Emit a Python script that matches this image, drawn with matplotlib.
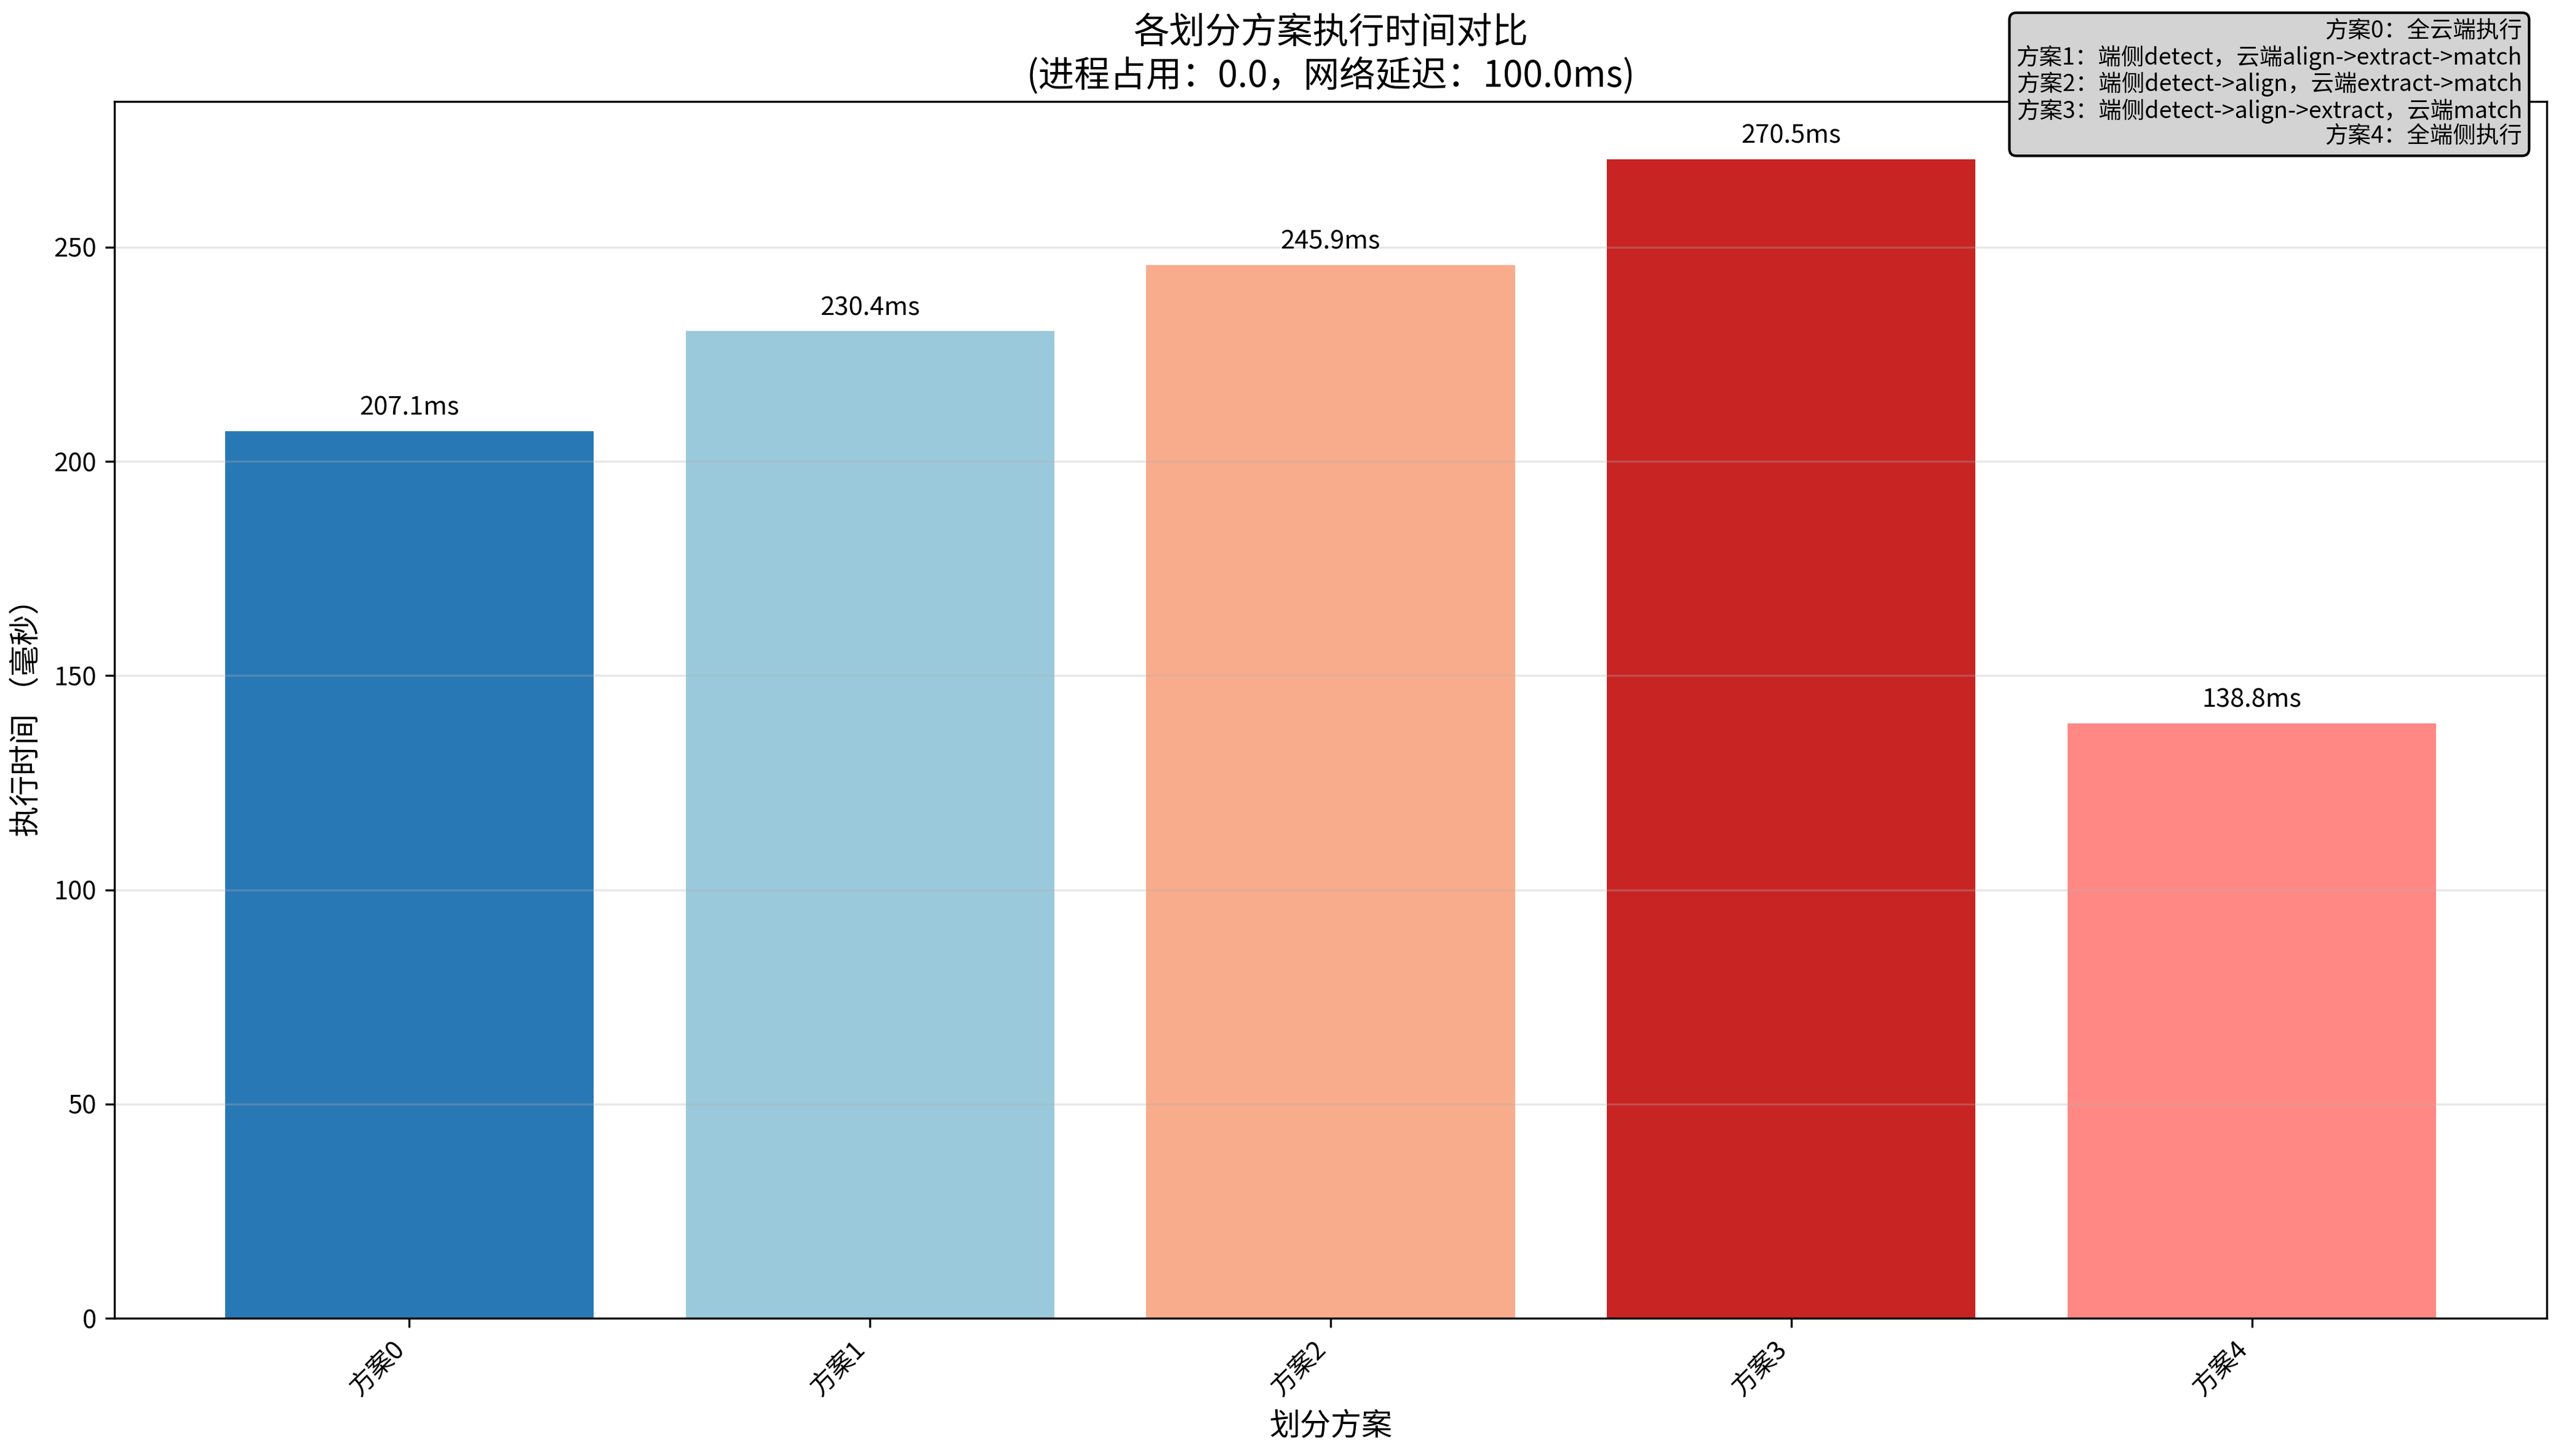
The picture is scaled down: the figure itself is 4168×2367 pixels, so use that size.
import numpy as np
import matplotlib
matplotlib.use('Agg')
from matplotlib import pyplot as plt

plt.rcParams['font.family'] = ['Noto Sans CJK SC', 'DejaVu Sans']
plt.rcParams['axes.unicode_minus'] = False

# data
schemes = ['方案0', '方案1', '方案2', '方案3', '方案4']
exec_ms = [207.1, 230.4, 245.9, 270.5, 138.8]
colors = ['#2878B5', '#9AC9DB', '#F8AC8C', '#C82423', '#FF8884']
scheme_desc = [
    '方案0：全云端执行',
    '方案1：端侧detect，云端align->extract->match',
    '方案2：端侧detect->align，云端extract->match',
    '方案3：端侧detect->align->extract，云端match',
    '方案4：全端侧执行',
]

fig = plt.figure(figsize=(4168/300, 2367/300), dpi=300)
ax = fig.add_subplot(111)
fig.subplots_adjust(left=0.0446, right=0.9933, bottom=0.0946, top=0.9303)

x = np.arange(len(schemes))
bars = ax.bar(x, exec_ms, color=colors, width=0.8)

# valor em cima de cada barra
for xi, v in zip(x, exec_ms):
    ax.text(xi, v + 2.5, f'{v:.1f}ms', ha='center', va='bottom', fontsize=10)

ax.set_xticks(x)
ax.set_xticklabels(schemes, rotation=45, ha='right', fontsize=10)
ax.set_xlabel('划分方案', fontsize=12)
ax.set_ylabel('执行时间 （毫秒）', fontsize=12)
ax.set_title('各划分方案执行时间对比\n(进程占用：0.0，网络延迟：100.0ms)', fontsize=14)
ax.grid(axis='y', alpha=0.3)

fig.text(0.9837, 0.9865, '\n'.join(scheme_desc), ha='right', va='top',
         multialignment='right', fontsize=9, linespacing=1.08,
         bbox=dict(boxstyle='round', facecolor='lightgray', edgecolor='black'))

fig.savefig('out.png', dpi=300)
